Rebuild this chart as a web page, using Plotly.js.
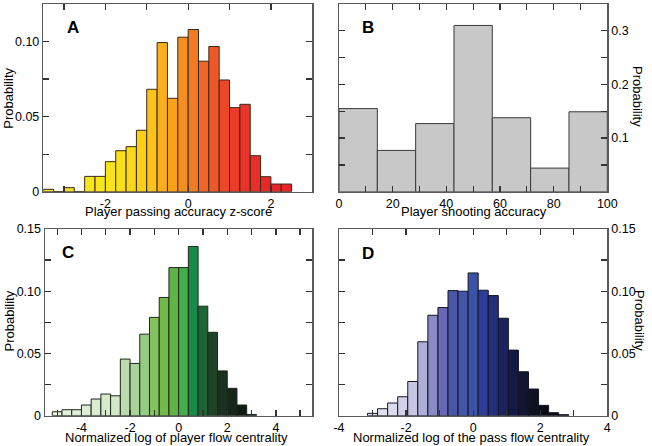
<!DOCTYPE html>
<html>
<head>
<meta charset="utf-8">
<script src="https://cdn.plot.ly/plotly-3.0.1.min.js"></script>
<style>html,body{margin:0;padding:0;background:#fff}#chart{width:652px;height:446px}</style>
</head>
<body>
<div id="chart"></div>
<script>
// ---- Panel A: player passing accuracy z-score ----
const binsA = [-3.375,-3.125,-2.875,-2.625,-2.375,-2.125,-1.875,-1.625,-1.375,-1.125,-0.875,-0.625,-0.375,-0.125,0.125,0.375,0.625,0.875,1.125,1.375,1.625,1.875,2.125,2.375];
const probA = [0.0016,0,0.0027,0,0.0102,0.0102,0.0200,0.0273,0.0300,0.0409,0.0682,0.0993,0.0622,0.1029,0.1080,0.0869,0.0967,0.0744,0.0560,0.0582,0.0240,0.0100,0.0051,0.0051];
const colorsA = ['#eedc2c','#eedc2c','#f0e02a','#f0e02a','#f6e61b','#f6e61b','#f7e51a','#f8e01a','#f9d81a','#fbcf1a','#fbc31b','#f9b01c','#f8a11e','#f48e21','#f17a24','#ef6626','#ee5728','#ec4828','#eb3c29','#ea332a','#e92d2a','#e8292a','#e8262a','#e8262a'];
const widthA = 0.25;

// ---- Panel B: player shooting accuracy ----
const binsB = [7.142857,21.428571,35.714286,50,64.285714,78.571429,92.857143];
const probB = [0.155,0.077,0.127,0.310,0.138,0.044,0.149];
const widthB = 100/7;

// ---- Panel C: normalized log of player flow centrality ----
const binsC = [-5.0,-4.6,-4.2,-3.8,-3.4,-3.0,-2.6,-2.2,-1.8,-1.4,-1.0,-0.6,-0.2,0.2,0.6,1.0,1.4,1.8,2.2,2.6,3.0];
const probC = [0.0032,0.0048,0.0048,0.0086,0.0134,0.0174,0.0160,0.0455,0.0420,0.0655,0.0790,0.0950,0.1190,0.1190,0.1360,0.0880,0.0670,0.0360,0.0220,0.0086,0.0010];
const colorsC = ['#e2f1da','#e2f1da','#e0efd7','#ddeed4','#d9ecd0','#d6eacc','#d3e8c9','#badcad','#a8d49a','#96cb82','#84c25e','#72ba48','#60b446','#44ae4a','#178a48','#1d6434','#1f4428','#1a3020','#162618','#0f1c12','#0c140c'];
const widthC = 0.4;

// ---- Panel D: normalized log of the pass flow centrality ----
const binsD = [-3.0,-2.7,-2.4,-2.1,-1.8,-1.5,-1.2,-0.9,-0.6,-0.3,0.0,0.3,0.6,0.9,1.2,1.5,1.8,2.1,2.4,2.7];
const probD = [0.0019,0.0056,0.0102,0.0152,0.0275,0.0594,0.0807,0.0869,0.1005,0.1000,0.1147,0.1008,0.0965,0.0783,0.0527,0.0353,0.0214,0.0083,0.0024,0.0008];
const colorsD = ['#dcdcee','#e0e0f0','#dcdcf0','#d2d2ea','#c6c6e2','#aeaed8','#8a8ac4','#6868b4','#4a56a8','#4456aa','#3a52a8','#2c3c98','#252e7c','#1c2260','#141a48','#131632','#0f1020','#0b0b14','#080810','#060608'];
const widthD = 0.3;

// ---- text ----
const panelLetters = ['A','B','C','D'];
const xTitles = ['Player passing accuracy z-score','Player shooting accuracy','Normalized log of player flow centrality','Normalized log of the pass flow centrality'];
const yTitle = 'Probability';

const FONT = 'Liberation Sans, Arial, Helvetica, sans-serif';
const W = 652, H = 446;
function px(x){return x/W;}
function py(y){return 1 - y/H;}

function bar(x, y, w, colors, xa, ya, lineColor){
  return {type:'bar', x:x, y:y, width:w, xaxis:xa, yaxis:ya,
    marker:{color:colors, line:{color:lineColor, width:1}}, hoverinfo:'x+y', showlegend:false};
}

const data = [
  bar(binsA, probA, widthA, colorsA, 'x', 'y', '#3a2a14'),
  bar(binsB, probB, widthB, '#c8c8c8', 'x2', 'y2', '#3a3a3a'),
  bar(binsC, probC, widthC, colorsC, 'x3', 'y3', '#1e261e'),
  bar(binsD, probD, widthD, colorsD, 'x4', 'y4', '#141420')
];

const axBase = {showline:true, linecolor:'#5a5a5a', linewidth:1.5, mirror:'ticks', ticks:'inside',
  ticklen:6, tickwidth:1.3, tickcolor:'#333', showgrid:false, zeroline:false,
  tickfont:{family:FONT, size:12.5, color:'#000'}, fixedrange:true};
function ax(extra){return Object.assign({}, axBase, extra);}
function minor(d){return {dtick:d, tick0:0, ticks:'inside', ticklen:6, tickwidth:1.3, tickcolor:'#333', showgrid:false};}

function note(text, x, y, size, angle){
  return {text:text, x:px(x), y:py(y), xref:'paper', yref:'paper', xanchor:'center', yanchor:'middle',
    showarrow:false, textangle:angle||0, font:{family:FONT, size:size, color:'#000'}};
}

const layout = {
  width:W, height:H, margin:{l:0,r:0,t:0,b:0}, paper_bgcolor:'#fff', plot_bgcolor:'#fff',
  bargap:0, showlegend:false, font:{family:FONT, size:13, color:'#000'},
  xaxis: ax({domain:[px(43.3),px(312.3)], anchor:'y', range:[-3.5,3], tickmode:'array', tickvals:[-2,0,2], ticktext:['-2','0','2'], minor:minor(1)}),
  yaxis: ax({domain:[py(191.7),py(4)], anchor:'x', range:[0,0.125], tickmode:'array', tickvals:[0,0.05,0.10], ticktext:['0','0.05','0.10'], minor:minor(0.025)}),
  xaxis2: ax({domain:[px(339),px(607.3)], anchor:'y2', range:[0,100], tickmode:'array', tickvals:[0,20,40,60,80,100], ticktext:['0','20','40','60','80','100'], minor:minor(10)}),
  yaxis2: ax({domain:[py(191.7),py(4)], anchor:'x2', side:'right', range:[0,0.35], tickmode:'array', tickvals:[0.1,0.2,0.3], ticktext:['0.1','0.2','0.3'], minor:minor(0.05)}),
  xaxis3: ax({domain:[px(45),px(312.3)], anchor:'y3', range:[-5.5,5.5], tickmode:'array', tickvals:[-4,-2,0,2,4], ticktext:['-4','-2','0','2','4'], minor:minor(1)}),
  yaxis3: ax({domain:[py(415.7),py(229)], anchor:'x3', range:[0,0.15], tickmode:'array', tickvals:[0,0.05,0.10,0.15], ticktext:['0','0.05','0.10','0.15'], minor:minor(0.025)}),
  xaxis4: ax({domain:[px(339),px(607.3)], anchor:'y4', range:[-4,4], tickmode:'array', tickvals:[-4,-2,0,2,4], ticktext:['-4','-2','0','2','4'], minor:minor(1)}),
  yaxis4: ax({domain:[py(415.7),py(229)], anchor:'x4', side:'right', range:[0,0.15], tickmode:'array', tickvals:[0,0.05,0.10,0.15], ticktext:['0','0.05','0.10','0.15'], minor:minor(0.025)}),
  annotations: [
    note('<b>'+panelLetters[0]+'</b>', 72.5, 27.5, 17),
    note('<b>'+panelLetters[1]+'</b>', 368, 27.5, 17),
    note('<b>'+panelLetters[2]+'</b>', 67.5, 252.5, 17),
    note('<b>'+panelLetters[3]+'</b>', 368, 253.5, 17),
    note(xTitles[0], 178.3, 211.7, 13),
    note(xTitles[1], 474, 211.7, 13),
    note(xTitles[2], 176.7, 437.5, 13),
    note(xTitles[3], 471.7, 437.5, 13),
    note(yTitle, 8.7, 98, 13, -90),
    note(yTitle, 637, 96, 13, 90),
    note(yTitle, 8.5, 321, 13, -90),
    note(yTitle, 640, 320, 13, 90)
  ]
};

Plotly.newPlot('chart', data, layout, {staticPlot:true, displayModeBar:false});
</script>
</body>
</html>
